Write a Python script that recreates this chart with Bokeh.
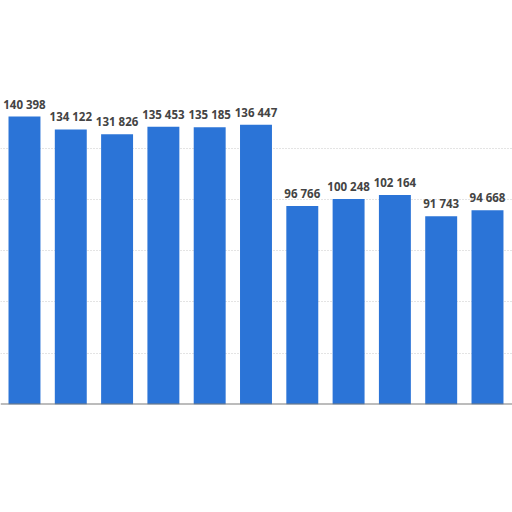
from bokeh.plotting import figure
from bokeh.models import ColumnDataSource, Range1d, FixedTicker, Span, LabelSet
from bokeh.core.properties import value
from bokeh.embed import file_html
from bokeh.resources import INLINE

values = [140398, 134122, 131826, 135453, 135185, 136447, 96766, 100248, 102164, 91743, 94668]
labels = ["140 398", "134 122", "131 826", "135 453", "135 185", "136 447",
          "96 766", "100 248", "102 164", "91 743", "94 668"]
xs = list(range(len(values)))
grid_ticks = [25000, 50000, 75000, 100000, 125000]

src = ColumnDataSource(dict(x=xs, top=values, label=labels))

p = figure(width=512, height=512, output_backend="svg", toolbar_location=None,
           x_range=Range1d(-0.518, 10.54), y_range=Range1d(0, 197000),
           min_border_left=0, min_border_right=0, min_border_top=0, min_border_bottom=108)
p.outline_line_color = None
p.background_fill_color = "white"
p.border_fill_color = "white"
p.xaxis.visible = False
p.yaxis.visible = False
p.xgrid.visible = False
p.ygrid.ticker = FixedTicker(ticks=grid_ticks)
p.ygrid.grid_line_color = "#c8c8c8"
p.ygrid.grid_line_dash = "1 2"
p.ygrid.grid_line_width = 1

p.vbar(x="x", top="top", width=0.69, bottom=0, source=src,
       fill_color="#2B74D7", line_color=None)

p.add_layout(Span(location=0, dimension="width", line_color="#7a7a7a", line_width=2))

lbl = LabelSet(x="x", y="top", text="label", source=src, text_align="center",
               text_baseline="bottom", y_offset=5, text_font=value("Open Sans"),
               text_font_size="11.5px", text_font_style="bold", text_color="#444444")
p.add_layout(lbl)

open("out.html", "w").write(file_html(p, INLINE))
